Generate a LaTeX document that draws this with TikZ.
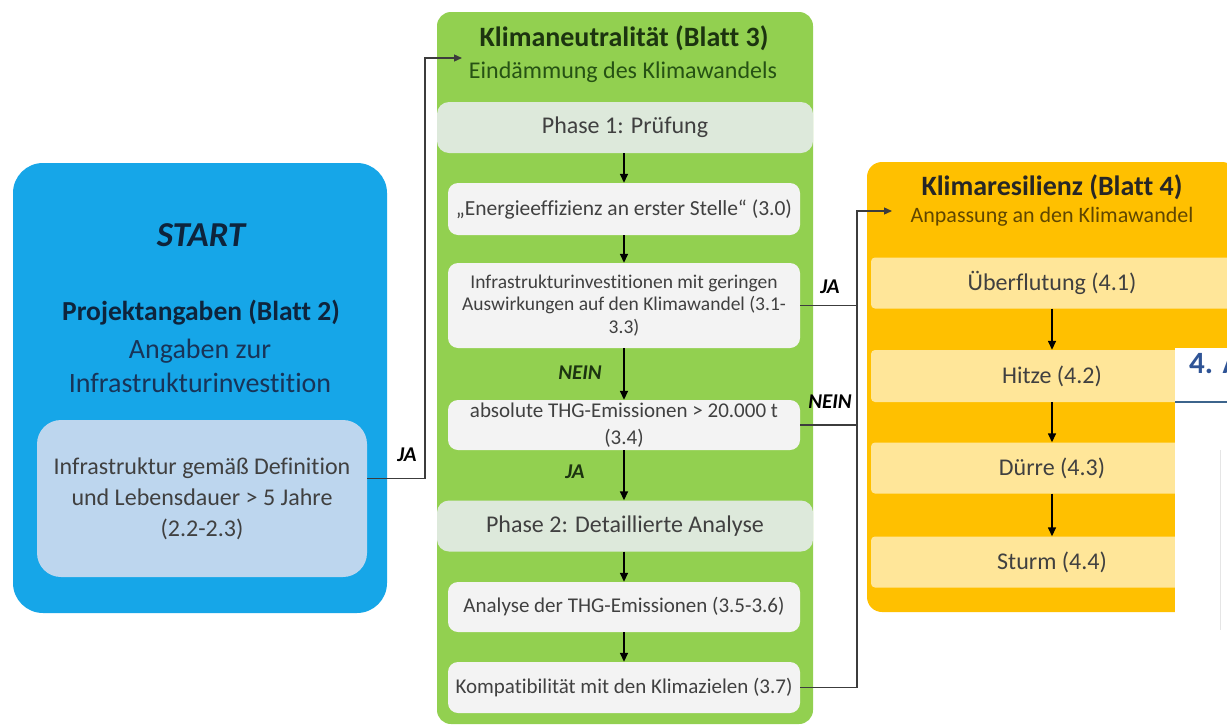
\documentclass[tikz,border=0pt]{standalone}
\usepackage{fontspec}
\setmainfont{Carlito}[Ligatures=NoCommon]
\usetikzlibrary{arrows.meta}
\definecolor{cBlue}{RGB}{22,166,232}
\definecolor{cBlueIn}{RGB}{189,214,238}
\definecolor{cGreen}{RGB}{146,208,80}
\definecolor{cPhase}{RGB}{221,233,219}
\definecolor{cWhiteBox}{RGB}{243,243,243}
\definecolor{cOrange}{RGB}{255,192,0}
\definecolor{cBand}{RGB}{255,230,153}
\definecolor{cNavy}{RGB}{14,36,60}
\definecolor{cBlueTxt}{RGB}{24,52,88}
\definecolor{cGray}{RGB}{64,64,64}
\definecolor{cDkGreen}{RGB}{28,52,16}
\definecolor{cSubGreen}{RGB}{38,82,20}
\definecolor{cBrown}{RGB}{96,70,0}
\definecolor{cLine}{RGB}{60,60,60}
\definecolor{cHead}{RGB}{47,84,150}
\definecolor{cHeadLine}{RGB}{60,100,140}
\tikzset{
  conn/.style={draw=cLine, line width=1.3pt, -{Triangle[length=8pt,width=7pt]}},
  plainline/.style={draw=cLine, line width=1.3pt},
  flow/.style={draw=black, line width=1.5pt, -{Triangle[length=9pt,width=8pt]}},
  lbl/.style={font=\fontsize{21}{24}\selectfont\bfseries\itshape, text=black, inner sep=0pt},
  glbl/.style={font=\fontsize{21}{24}\selectfont\bfseries\itshape, text=cDkGreen, inner sep=0pt},
  wbox/.style={fill=cWhiteBox, rounded corners=10pt, minimum width=352pt, inner sep=0pt,
    align=center, text=cGray},
  phasebox/.style={fill=cPhase, rounded corners=12pt, minimum width=376pt, minimum height=51pt,
    inner sep=0pt, text=cGray, font=\fontsize{24}{28}\selectfont},
  bandbox/.style={fill=cBand, rounded corners=4pt, minimum width=362pt, minimum height=51pt,
    inner sep=0pt, text=cGray, font=\fontsize{24}{28}\selectfont},
}
\begin{document}
\begin{tikzpicture}[x=1pt,y=-1pt]
\useasboundingbox (0,0) rectangle (1227,726);
\fill[white] (0,0) rectangle (1227,726);
\begin{scope}
\clip (0,0) rectangle (1227,726);

% ---------- START panel ----------
\node[fill=cBlue, rounded corners=30pt, minimum width=374pt, minimum height=450pt, inner sep=0pt] (startbox) at (200,388) {};
\node[font=\fontsize{35}{40}\selectfont\bfseries\itshape, text=cNavy, inner sep=0pt] (starttxt) at (201,235) {START};
\node[font=\fontsize{27.5}{33}\selectfont\bfseries, text=cNavy, inner sep=0pt] (projtxt) at (201,313) {Projektangaben (Blatt 2)};
\node[font=\fontsize{28}{34}\selectfont, text=cBlueTxt, align=center, inner sep=0pt] (angtxt) at (200,366) {Angaben zur\\Infrastrukturinvestition};
\node[fill=cBlueIn, rounded corners=24pt, minimum width=330pt, minimum height=157pt, inner sep=0pt,
      align=center, text=cGray, font=\fontsize{24}{31}\selectfont] (inner) at (202,498.5)
      {Infrastruktur gemäß Definition\\und Lebensdauer > 5 Jahre\\(2.2-2.3)};

% ---------- green panel ----------
\node[fill=cGreen, rounded corners=14pt, minimum width=376pt, minimum height=712pt, inner sep=0pt] (greenbox) at (625,368) {};
\node[font=\fontsize{28}{33}\selectfont\bfseries, text=cDkGreen, inner sep=0pt] (gtitle) at (624,38) {Klimaneutralität (Blatt 3)};
\node[font=\fontsize{24}{28}\selectfont, text=cSubGreen, inner sep=0pt] (gsub) at (623,72) {Eindämmung des Klimawandels};
\node[phasebox] (phase1) at (625,127.5) {Phase 1: Prüfung};
\node[wbox, minimum height=52pt, font=\fontsize{21.5}{26}\selectfont] (ebox) at (624,209) {„Energieeffizienz an erster Stelle“ (3.0)};
\node[wbox, minimum height=85pt, font=\fontsize{19.5}{22.5}\selectfont] (ibox) at (624,305.5) {Infrastrukturinvestitionen mit geringen\\Auswirkungen auf den Klimawandel (3.1-\\3.3)};
\node[wbox, minimum height=50pt, font=\fontsize{21}{27}\selectfont] (tbox) at (624,425) {absolute THG-Emissionen > 20.000 t\\(3.4)};
\node[phasebox] (phase2) at (625,526) {Phase 2: Detaillierte Analyse};
\node[wbox, minimum height=50pt, font=\fontsize{21}{26}\selectfont] (abox) at (624,607) {Analyse der THG-Emissionen (3.5-3.6)};
\node[wbox, minimum height=51pt, font=\fontsize{21}{26}\selectfont] (kbox) at (624,687.5) {Kompatibilität mit den Klimazielen (3.7)};

\draw[flow] (phase1.south -| ebox) -- (ebox.north);
\draw[flow] (ebox.south) -- (ibox.north);
\draw[flow] (ibox.south) -- (tbox.north);
\draw[flow] (tbox.south) -- (phase2.north -| tbox);
\draw[flow] (phase2.south -| abox) -- (abox.north);
\draw[flow] (abox.south) -- (kbox.north);
\node[glbl] (lneinmid) at (580,373) {NEIN};
\node[glbl] (ljamid) at (575,472) {JA};

% ---------- orange panel ----------
\node[fill=cOrange, rounded corners=15pt, minimum width=370pt, minimum height=450pt, inner sep=0pt] (orangebox) at (1052,387) {};
\node[font=\fontsize{28}{33}\selectfont\bfseries, text=black!85, inner sep=0pt] (otitle) at (1052,187) {Klimaresilienz (Blatt 4)};
\node[font=\fontsize{22}{26}\selectfont, text=cBrown, inner sep=0pt] (osub) at (1052,217) {Anpassung an den Klimawandel};
\node[bandbox] (b1) at (1052,283) {Überflutung (4.1)};
\node[bandbox, minimum height=52pt] (b2) at (1052,376) {Hitze (4.2)};
\node[bandbox] (b3) at (1052,468) {Dürre (4.3)};
\node[bandbox] (b4) at (1052,562) {Sturm (4.4)};
\draw[flow] (b1.south) -- (b2.north);
\draw[flow] (b2.south) -- (b3.north);
\draw[flow] (b3.south) -- (b4.north);

% ---------- connectors ----------
\coordinate (lj) at (425,58);
\coordinate (gin) at (462,58);
\draw[conn] ([yshift=20pt]inner.east) -| (lj) -- (gin);
\node[lbl] (lja) at (407,455) {JA};

\coordinate (rj) at (857,211);
\coordinate (oin) at (892,211);
\draw[conn] (kbox.east) -| (rj) -- (oin);
\draw[plainline] (ibox.east) -- (ibox.east -| rj);
\draw[plainline] (tbox.east) -- (tbox.east -| rj);
\node[lbl] (rja) at (830,287) {JA};
\node[lbl] (rnein) at (830,402) {NEIN};

% ---------- overlapping page fragment ----------
\fill[white] (1175,348) rectangle (1227,726);
\node[anchor=base west, font=\fontsize{31}{36}\selectfont\bfseries, text=cHead, inner sep=0pt] (h4) at (1189,373) {4. A};
\draw[cHeadLine, line width=1.3pt] (1175,402) -- (1227,402);
\draw[black!10, line width=1pt] (1220,450) -- (1220,630);
\end{scope}
\end{tikzpicture}
\end{document}
